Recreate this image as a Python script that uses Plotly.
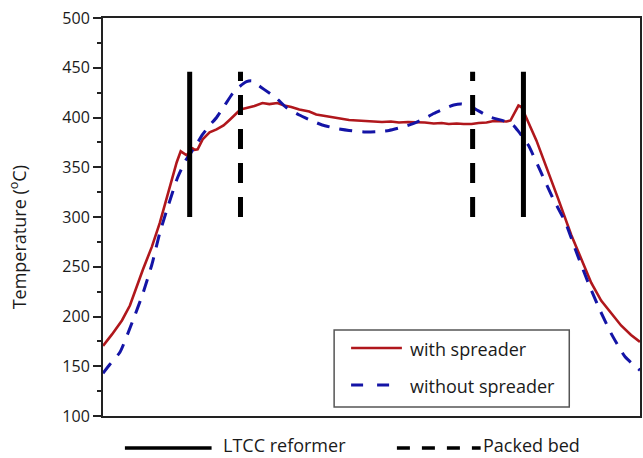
import plotly.graph_objects as go

# Axial position along the reactor (mm) and measured wall temperature (°C)
with_pos = [0.0, 0.9, 1.9, 2.7, 4.0, 4.9, 5.7, 6.7, 7.4, 7.8, 8.1, 8.4, 8.7, 9.0, 9.2, 9.5,
            10.0, 10.7, 11.4, 12.1, 12.7, 13.3, 13.8, 14.4, 15.2, 16.0, 16.7, 17.5, 18.2,
            18.9, 19.7, 20.7, 21.4, 22.3, 23.2, 24.0, 24.7, 25.5, 26.2, 27.1, 28.0, 28.9,
            29.7, 30.6, 31.4, 32.3, 33.2, 34.0, 34.7, 35.5, 36.2, 37.0, 37.7, 38.5, 39.2,
            39.9, 40.5, 40.9, 41.2, 41.5, 41.7, 42.0, 42.3, 42.5, 43.5, 44.5, 45.7, 47.0,
            48.0, 49.0, 50.0, 51.0, 52.0, 53.0, 53.9]
with_temp = [170.5, 182, 196, 211, 247, 270, 294, 330, 355, 366, 364, 362, 366, 369, 367.5,
             368, 378, 385, 388, 392, 397.5, 403, 408, 409.5, 411.5, 414.5, 413.5, 414.5,
             412, 410.5, 408, 406, 403, 401.5, 400, 398.5, 397.5, 397, 396.5, 396, 395.5,
             396, 395, 395.5, 395.5, 395, 394, 394.5, 393.5, 394, 393.5, 393.5, 394.5, 395,
             396.5, 396, 396, 397, 403, 409, 412, 410.5, 403, 399.5, 377, 351, 318, 282,
             257, 234, 216, 203, 191, 181.5, 174.5]

without_pos = [0.0, 0.7, 1.7, 3.0, 4.0, 4.9, 5.7, 6.5, 7.5, 8.3, 9.2, 10.0, 10.7, 11.4, 12.2,
               13.0, 13.7, 14.4, 14.9, 15.5, 16.2, 17.4, 18.4, 19.7, 20.9, 22.0, 23.4, 24.7,
               26.2, 27.4, 28.7, 29.7, 30.9, 32.0, 33.2, 34.4, 35.2, 36.0, 36.7, 37.2, 38.7,
               40.4, 41.2, 41.7, 42.7, 44.0, 45.2, 46.4, 47.5, 48.7, 49.9, 51.0, 52.4, 53.9]
without_temp = [143, 152, 164, 196, 223, 252, 284, 310, 340, 357, 370, 383, 392, 400, 412,
                424, 431, 436, 437, 433, 428, 419.5, 410, 402.5, 397, 392.5, 389, 387, 385.5,
                385.7, 387, 389.4, 393, 397.5, 404, 409.5, 412.5, 413.5, 411.5, 409.5, 401,
                396, 392, 386, 372, 344, 318, 295, 265, 234, 206, 183, 159.5, 146]

# Boundaries of the LTCC reformer and of the packed bed
ltcc_pos = [8.7, 42.2]
bed_pos = [13.8, 37.1]
marker_temp = [300, 446]

y_ticks = [100, 150, 200, 250, 300, 350, 400, 450, 500]

RED = "#b0171c"
BLUE = "#1414a6"
FONT = "Open Sans"
TEXT = "#1a1a1a"

fig = go.Figure()

fig.add_trace(go.Scatter(x=with_pos, y=with_temp, mode="lines",
                         line=dict(color=RED, width=2.6), name="with spreader",
                         showlegend=False))
fig.add_trace(go.Scatter(x=without_pos, y=without_temp, mode="lines",
                         line=dict(color=BLUE, width=3, dash="13px,10px", shape="spline",
                                   smoothing=0.5),
                         name="without spreader", showlegend=False))

for p in ltcc_pos:
    fig.add_trace(go.Scatter(x=[p, p], y=marker_temp, mode="lines",
                             line=dict(color="black", width=5), showlegend=False))
for p in bed_pos:
    fig.add_trace(go.Scatter(x=[p, p], y=marker_temp, mode="lines",
                             line=dict(color="black", width=5, dash="20px,14px"),
                             showlegend=False))

# In-plot legend box for the two temperature profiles
shapes = [
    dict(type="rect", xref="paper", yref="paper", x0=0.4304, x1=0.8683, y0=0.0226, y1=0.2161,
         line=dict(color="#555555", width=1.5), fillcolor="white", layer="above"),
    dict(type="line", xref="paper", yref="paper", x0=0.462, x1=0.5566, y0=0.1709, y1=0.1709,
         line=dict(color=RED, width=2.6), layer="above"),
    dict(type="line", xref="paper", yref="paper", x0=0.462, x1=0.5566, y0=0.0779, y1=0.0779,
         line=dict(color=BLUE, width=3, dash="12px,14px"), layer="above"),
    # Legend below the axes for the boundary markers
    dict(type="line", xref="paper", yref="paper", x0=0.0408, x1=0.2022, y0=-0.0804, y1=-0.0804,
         line=dict(color="black", width=3.5)),
    dict(type="line", xref="paper", yref="paper", x0=0.5473, x1=0.7032, y0=-0.0804, y1=-0.0804,
         line=dict(color="black", width=3.5, dash="13px,12px")),
]

annotations = [
    dict(text="with spreader", xref="paper", yref="paper", x=0.5677, y=0.1683,
         xanchor="left", yanchor="middle", showarrow=False,
         font=dict(family=FONT, size=18, color=TEXT)),
    dict(text="without spreader", xref="paper", yref="paper", x=0.5677, y=0.0754,
         xanchor="left", yanchor="middle", showarrow=False,
         font=dict(family=FONT, size=18, color=TEXT)),
    dict(text="LTCC reformer", xref="paper", yref="paper", x=0.2189, y=-0.0729,
         xanchor="left", yanchor="middle", showarrow=False,
         font=dict(family=FONT, size=18, color=TEXT)),
    dict(text="Packed bed", xref="paper", yref="paper", x=0.7040, y=-0.0729,
         xanchor="left", yanchor="middle", showarrow=False,
         font=dict(family=FONT, size=18, color=TEXT)),
    dict(text="Temperature (<sup>o</sup>C)", xref="paper", yref="paper", x=-0.1577, y=0.4497,
         xanchor="center", yanchor="middle", textangle=-90, showarrow=False,
         font=dict(family=FONT, size=18, color=TEXT)),
]

fig.update_layout(
    width=643, height=458,
    margin=dict(l=103, r=1, t=18, b=42),
    paper_bgcolor="white", plot_bgcolor="white",
    shapes=shapes, annotations=annotations,
    font=dict(family=FONT, color=TEXT),
)
fig.update_xaxes(range=[0, 53.9], showgrid=False, zeroline=False, showticklabels=False,
                 ticks="", showline=True, linecolor="#222222", linewidth=2, mirror=True)
fig.update_yaxes(range=[100, 500], tickvals=y_ticks, showgrid=False, zeroline=False,
                 ticks="outside", ticklen=8, tickwidth=1.5, tickcolor="#222222",
                 minor=dict(ticks="outside", ticklen=4, dtick=25, tick0=100,
                            tickcolor="#222222", tickwidth=1.5),
                 tickfont=dict(family=FONT, size=16, color=TEXT),
                 showline=True, linecolor="#222222", linewidth=2, mirror=True)

fig.write_html("out.html")
